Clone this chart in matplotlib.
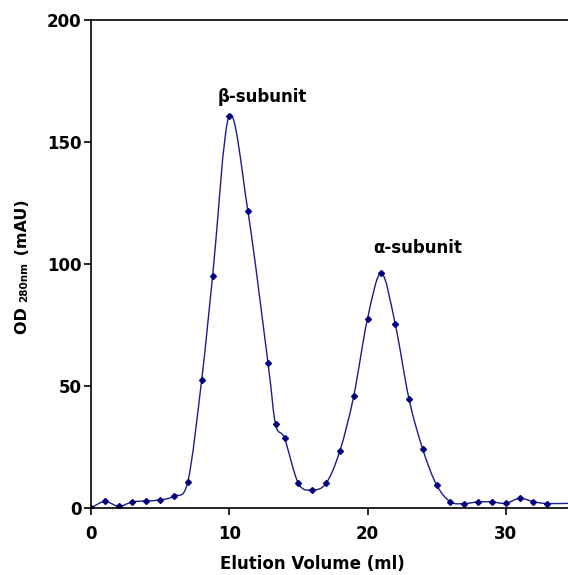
import matplotlib
matplotlib.use("Agg")
import matplotlib.pyplot as plt
from matplotlib.path import Path
from matplotlib.patches import PathPatch
import numpy as np

# ---- data ----
volume = [0, 1, 2, 3, 4, 5, 6, 7, 8, 8.8, 10, 11.35, 12.8, 13.35, 14, 15, 16, 17,
          18, 19, 20, 21, 22, 23, 24, 25, 26, 27, 28, 29, 30, 31, 32, 33, 35]
od280 = [0, 2.7, 0.7, 2.5, 2.9, 3.3, 4.9, 10.7, 52.3, 95.2, 160.8, 121.6, 59.5, 34.3,
         28.5, 10.1, 7.4, 10.1, 23.4, 45.8, 77.6, 96.2, 75.5, 44.7, 24.0, 9.4, 2.5,
         1.8, 2.5, 2.5, 1.9, 4.0, 2.6, 1.8, 2.0]
x_ticks = [0, 10, 20, 30]
y_ticks = [0, 50, 100, 150, 200]
peak_labels = ["β-subunit", "α-subunit"]
peak_label_pos = [(12.4, 168.4), (23.6, 106.5)]

W, H = 568, 575
fig = plt.figure(figsize=(W / 100, H / 100), dpi=100)
ax = fig.add_axes([91 / W, (H - 508) / H, (W - 91) / W, (508 - 20) / H])

line_color = "#1c1c8a"
mk_color = "#00007a"

# smoothed line (Excel-style Catmull-Rom Bezier through the points)
xs = np.array(volume, float)
ys = np.array(od280, float)
n = len(xs)
verts = [(xs[0], ys[0])]
codes = [Path.MOVETO]
for i in range(n - 1):
    i0 = max(i - 1, 0)
    i3 = min(i + 2, n - 1)
    c1 = (xs[i] + (xs[i + 1] - xs[i0]) / 6, ys[i] + (ys[i + 1] - ys[i0]) / 6)
    c2 = (xs[i + 1] - (xs[i3] - xs[i]) / 6, ys[i + 1] - (ys[i3] - ys[i]) / 6)
    verts += [c1, c2, (xs[i + 1], ys[i + 1])]
    codes += [Path.CURVE4] * 3
patch = PathPatch(Path(verts, codes), facecolor="none", edgecolor=line_color, lw=1.0)
ax.add_patch(patch)
ax.plot(volume, od280, linestyle="none", marker="D", ms=3.0, color=mk_color)

ax.set_xlim(0, 34.5)
ax.set_ylim(0, 200)
ax.set_xticks(x_ticks)
ax.set_yticks(y_ticks)
for s in ["left", "bottom", "top"]:
    ax.spines[s].set_linewidth(1.2)
ax.spines["right"].set_visible(False)
ax.tick_params(axis="both", direction="out", length=5, width=1.2, labelsize=12)
ax.tick_params(axis="x", pad=7)
ax.tick_params(axis="y", pad=2)
for lab in ax.get_xticklabels() + ax.get_yticklabels():
    lab.set_fontweight("bold")

for txt, (px, py) in zip(peak_labels, peak_label_pos):
    ax.text(px, py, txt, ha="center", va="center", fontsize=12, fontweight="bold")

fig.text(312 / W, 1 - 564 / H, "Elution Volume (ml)", ha="center", va="center",
         fontsize=12, fontweight="bold")

# y label: "OD" + small "280nm" + "(mAU)", rotated, shared baseline
fig.canvas.draw()
r = fig.canvas.get_renderer()
base_x = 27.0
y_px = 334.0
pieces = [("OD ", 11.5), ("280nm", 7.5), (" (mAU)", 11.5)]
for txt, fs in pieces:
    t = fig.text(base_x / W, 1 - y_px / H, txt, rotation=90, rotation_mode="anchor",
                 ha="left", va="baseline", fontsize=fs, fontweight="bold")
    bb = t.get_window_extent(renderer=r)
    y_px -= bb.height

fig.savefig("out.png", dpi=100)
